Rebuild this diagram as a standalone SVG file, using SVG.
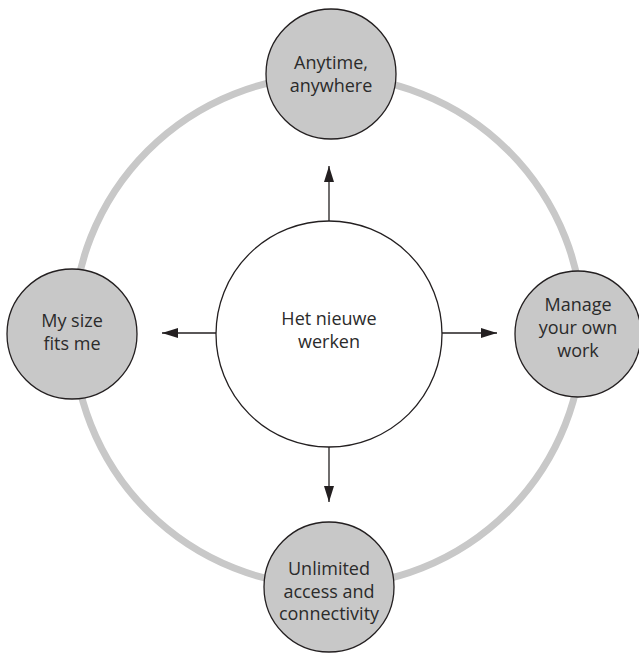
<svg xmlns="http://www.w3.org/2000/svg" width="639" height="655" viewBox="0 0 639 655">
  <defs>
    <marker id="arrow" viewBox="0 0 16 10" refX="16" refY="5" markerWidth="16" markerHeight="10" markerUnits="userSpaceOnUse" orient="auto">
      <path d="M0,0 L16,5 L0,10 Z" fill="#231f20"/>
    </marker>
    <style>
      .ring { fill: none; stroke: #c8c8c8; stroke-width: 7; }
      .node { fill: #c8c8c8; stroke: #231f20; stroke-width: 1.3; }
      .hub { fill: #ffffff; stroke: #231f20; stroke-width: 1.3; }
      .lbl { font-family: "Open Sans", "Noto Sans", sans-serif; font-size: 18px; fill: #2b2b2b; text-anchor: middle; }
      .conn { stroke: #231f20; stroke-width: 1.3; fill: none; marker-end: url(#arrow); }
    </style>
  </defs>
  <rect width="639" height="655" fill="#ffffff"/>
  <circle class="ring" cx="328" cy="331" r="255"/>
  <g id="connectors">
    <line class="conn" x1="329" y1="221" x2="329" y2="166"/>
    <line class="conn" x1="329" y1="447" x2="329" y2="502"/>
    <line class="conn" x1="216" y1="333" x2="162" y2="333"/>
    <line class="conn" x1="442" y1="333" x2="497" y2="333"/>
  </g>
  <g id="hub">
    <circle class="hub" cx="329" cy="334" r="113"/>
    <text class="lbl" x="329" y="325">Het nieuwe</text>
    <text class="lbl" x="329" y="348">werken</text>
  </g>
  <g id="node-top">
    <circle class="node" cx="331" cy="74" r="65"/>
    <text class="lbl" x="331" y="69">Anytime,</text>
    <text class="lbl" x="331" y="92">anywhere</text>
  </g>
  <g id="node-left">
    <circle class="node" cx="72" cy="334" r="65"/>
    <text class="lbl" x="72" y="327">My size</text>
    <text class="lbl" x="72" y="350">fits me</text>
  </g>
  <g id="node-right">
    <circle class="node" cx="578" cy="334" r="63"/>
    <text class="lbl" x="578" y="311">Manage</text>
    <text class="lbl" x="578" y="334">your own</text>
    <text class="lbl" x="578" y="357">work</text>
  </g>
  <g id="node-bottom">
    <circle class="node" cx="329" cy="587" r="65"/>
    <text class="lbl" x="329" y="575">Unlimited</text>
    <text class="lbl" x="329" y="598">access and</text>
    <text class="lbl" x="329" y="620">connectivity</text>
  </g>
</svg>
